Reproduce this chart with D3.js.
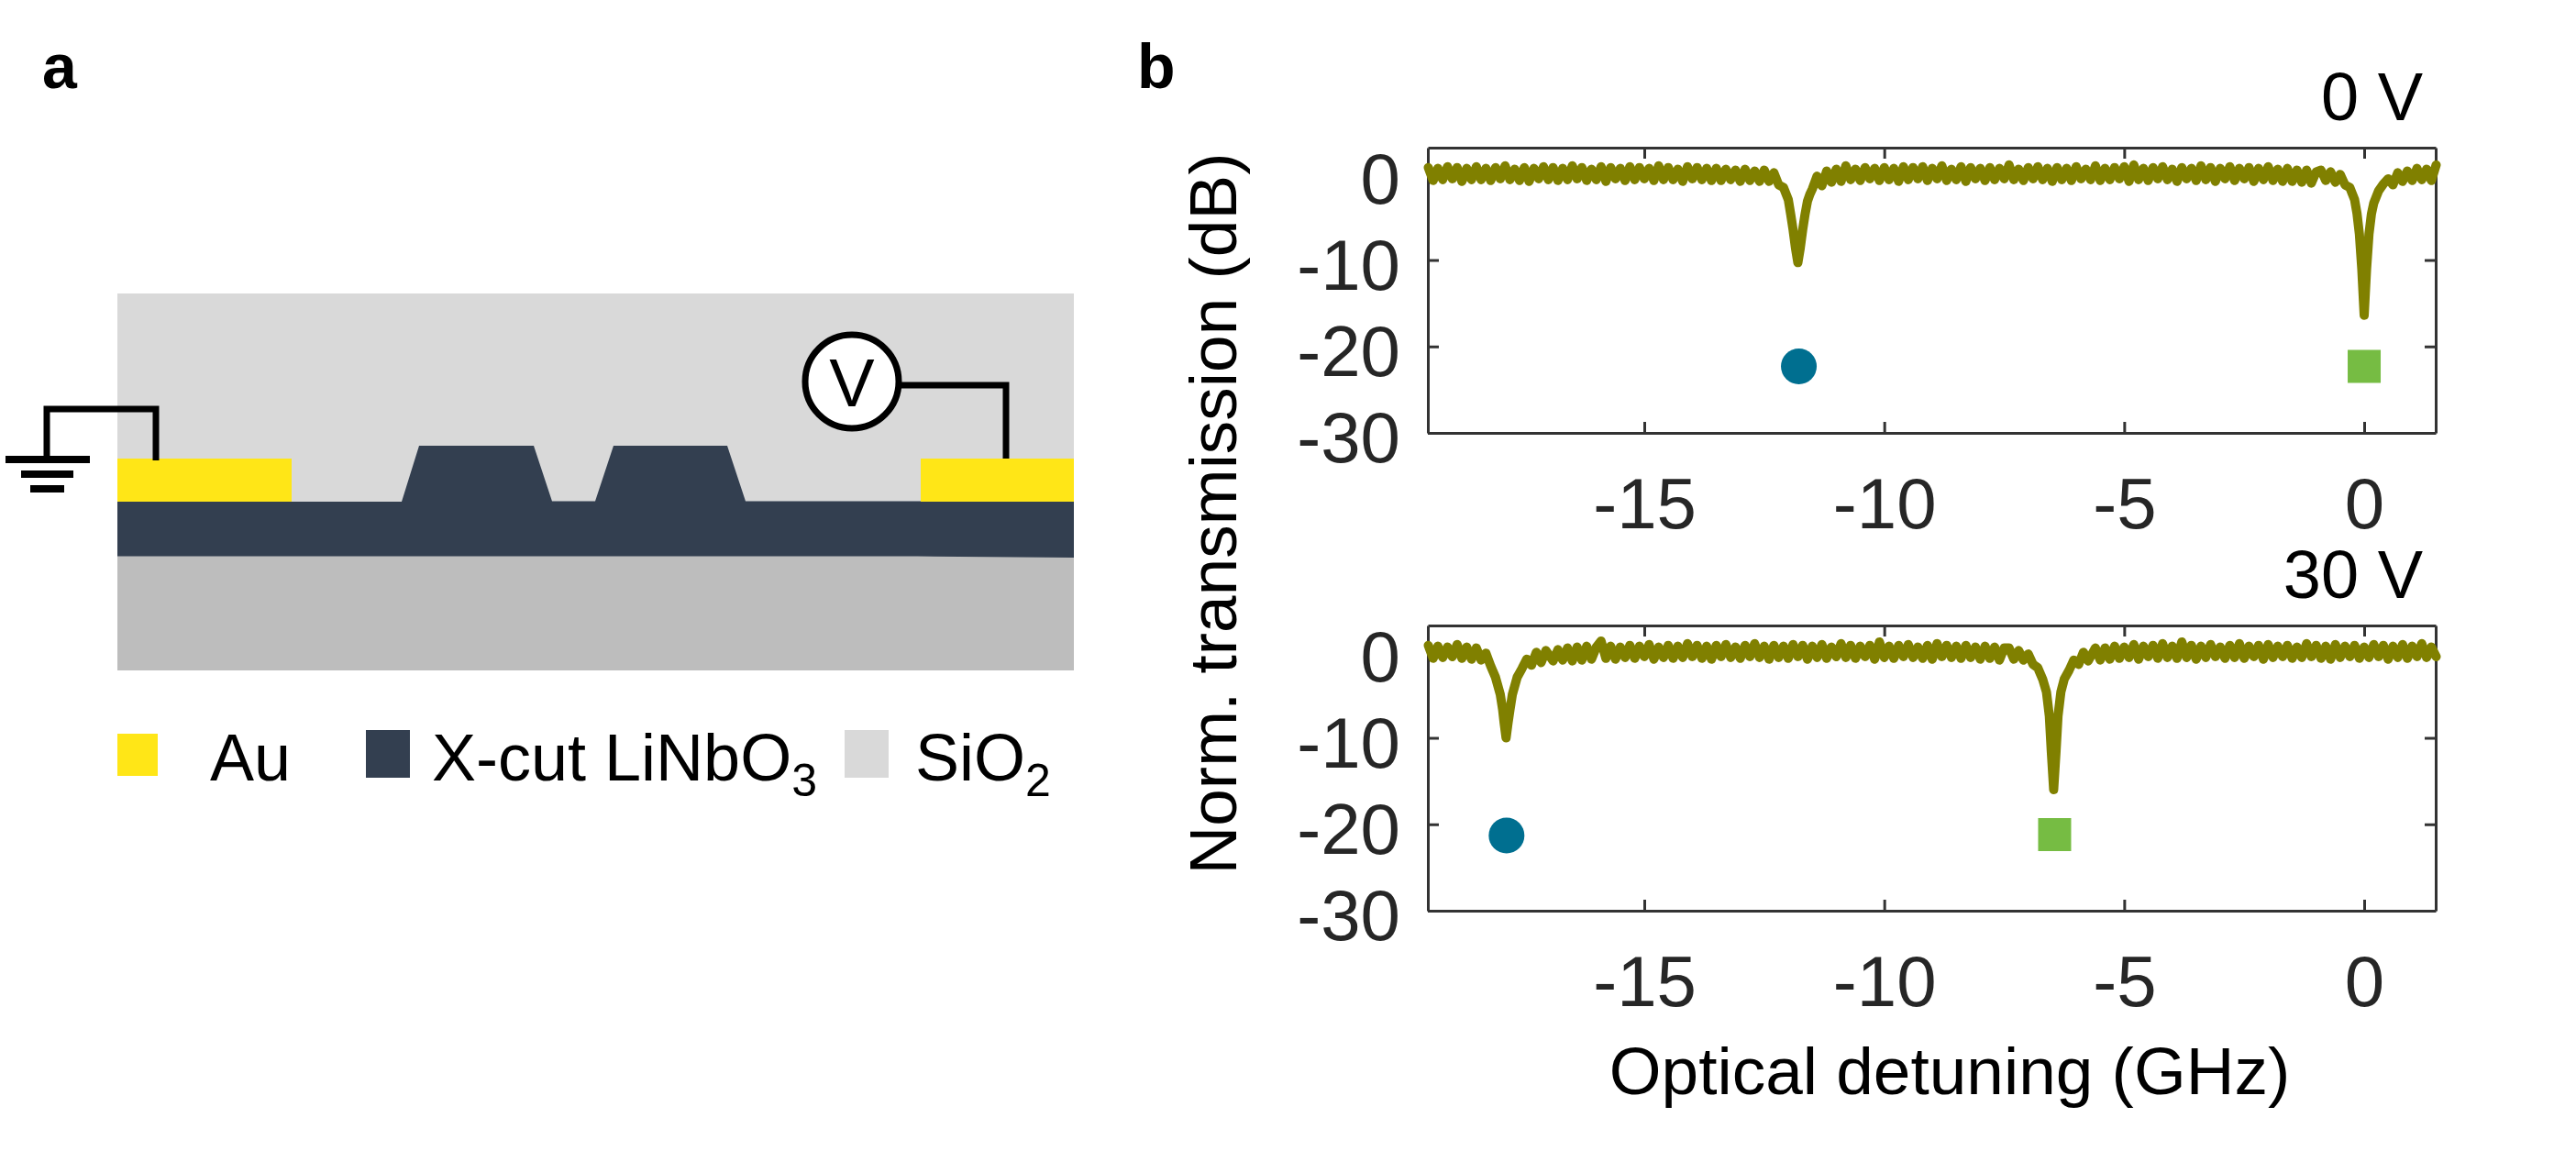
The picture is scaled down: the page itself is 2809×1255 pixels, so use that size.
<!DOCTYPE html>
<meta charset="utf-8">
<style>
body { margin: 0; background: #fff; }
text { font-family: 'Liberation Sans', sans-serif; }
.axis path, .axis line { stroke: #333; stroke-width: 3px; }
.axis text { font-size: 78px; fill: #262626; }
.trace { fill: none; stroke: #808000; stroke-width: 10px; stroke-linejoin: round; stroke-linecap: round; }
.wire { fill: none; stroke: #000; stroke-width: 7px; }
</style>
<svg width="2809" height="1255"></svg>
<script src="https://d3js.org/d3.v7.min.js"></script>
<script>

// tick labels
var xTicks = [-15, -10, -5, 0];
var yTicks = [0, -10, -20, -30];
var voltages = ["0 V", "30 V"];

// 0 V trace
var detuning0V = [
  -19.5,-19.4,-19.3,-19.2,-19.1,-19.0,-18.9,-18.8,-18.7,-18.6,
  -18.5,-18.4,-18.3,-18.2,-18.1,-18.0,-17.9,-17.8,-17.7,-17.6,
  -17.5,-17.4,-17.3,-17.2,-17.1,-17.0,-16.9,-16.8,-16.7,-16.6,
  -16.5,-16.4,-16.3,-16.2,-16.1,-16.0,-15.9,-15.8,-15.7,-15.6,
  -15.5,-15.4,-15.3,-15.2,-15.1,-15.0,-14.9,-14.8,-14.7,-14.6,
  -14.5,-14.4,-14.3,-14.2,-14.1,-14.0,-13.9,-13.8,-13.7,-13.6,
  -13.5,-13.4,-13.3,-13.2,-13.1,-13.0,-12.9,-12.8,-12.7,-12.6,
  -12.5,-12.4,-12.3,-12.2,-12.1,-12.0,-11.95,-11.9,-11.85,-11.8,-11.75,-11.7,-11.65,-11.6,-11.55,-11.5,-11.4,-11.3,-11.2,-11.1,-11.0,
  -10.9,-10.8,-10.7,-10.6,-10.5,-10.4,-10.3,-10.2,-10.1,-10.0,
  -9.9,-9.8,-9.7,-9.6,-9.5,-9.4,-9.3,-9.2,-9.1,-9.0,
  -8.9,-8.8,-8.7,-8.6,-8.5,-8.4,-8.3,-8.2,-8.1,-8.0,
  -7.9,-7.8,-7.7,-7.6,-7.5,-7.4,-7.3,-7.2,-7.1,-7.0,
  -6.9,-6.8,-6.7,-6.6,-6.5,-6.4,-6.3,-6.2,-6.1,-6.0,
  -5.9,-5.8,-5.7,-5.6,-5.5,-5.4,-5.3,-5.2,-5.1,-5.0,
  -4.9,-4.8,-4.7,-4.6,-4.5,-4.4,-4.3,-4.2,-4.1,-4.0,
  -3.9,-3.8,-3.7,-3.6,-3.5,-3.4,-3.3,-3.2,-3.1,-3.0,
  -2.9,-2.8,-2.7,-2.6,-2.5,-2.4,-2.3,-2.2,-2.1,-2.0,
  -1.9,-1.8,-1.7,-1.6,-1.5,-1.4,-1.3,-1.2,-1.1,-1.0,
  -0.9,-0.8,-0.7,-0.6,-0.5,-0.4,-0.3,-0.2,-0.15,-0.1,-0.05,0,0.05,0.1,0.15,0.2,0.3,0.4,0.5,0.6,0.7,0.8,0.9,1.0,1.1,1.2,1.3,1.4,1.5
];
var transmission0V = [
  .7,-.8,.6,-.7,.8,-.6,.7,-.9,.6,-.7,
  .8,-.7,.6,-.8,.7,-.6,.9,-.7,.5,-.8,
  .7,-.9,.6,-.6,.8,-.7,.7,-.8,.6,-.7,
  .9,-.6,.7,-.8,.5,-.7,.8,-.9,.7,-.6,
  .6,-.8,.8,-.7,.7,-.6,.6,-.8,.9,-.7,
  .7,-.7,.5,-.9,.8,-.6,.7,-.7,.6,-.8,
  .6,-.8,.5,-.7,.4,-.9,.5,-.8,.3,-.9,
  .4,-.9,.1,-1.3,-1.6,-3.0,-4.7,-6.5,-8.6,-10.3,-8.6,-6.5,-4.7,-3.2,-2.4,-1.8,-.3,-1.4,.3,-1.0,.5,
  -.9,.9,-.7,.5,-.8,.7,-.6,.6,-.8,.7,
  -.7,.6,-.9,.8,-.7,.7,-.6,.8,-.8,.6,
  -.6,.9,-.8,.5,-.7,.8,-.9,.7,-.6,.6,
  -.8,.7,-.7,.6,-.6,1.0,-.7,.5,-.8,.7,
  -.6,.8,-.7,.6,-.9,.7,-.7,.6,-.8,.8,
  -.6,.5,-.7,.9,-.8,.6,-.7,.7,-.6,.8,
  -.9,1.0,-.7,.6,-.8,.7,-.6,.8,-.7,.5,
  -.9,.7,-.6,.6,-.8,.9,-.7,.7,-.9,.6,
  -.6,.8,-.8,.6,-.6,.7,-.9,.6,-.7,.8,
  -.8,.5,-.9,.6,-.9,.4,-1.0,.4,-1.1,.2,
  .4,-.8,.2,-1.0,-.1,-1.3,-1.6,-3.0,-4.6,-7.0,-11.0,-16.4,-11.0,-7.0,-4.7,-3.4,-2.0,-1.2,-.6,-1.3,.1,-.9,.3,-.8,.6,-.7,.5,-.8,1.0
];

// 30 V trace
var detuning30V = [
  -19.5,-19.4,-19.3,-19.2,-19.1,-19.0,-18.9,-18.8,-18.7,-18.6,
  -18.5,-18.4,-18.3,-18.2,-18.1,-18.0,-17.95,-17.92,-17.88,-17.84,-17.8,-17.75,-17.65,-17.55,-17.45,-17.35,-17.25,-17.15,-17.05,
  -16.9,-16.8,-16.7,-16.6,-16.5,
  -16.4,-16.3,-16.2,-16.1,-16.0,-15.9,-15.8,-15.7,-15.6,-15.5,
  -15.4,-15.3,-15.2,-15.1,-15.0,-14.9,-14.8,-14.7,-14.6,-14.5,
  -14.4,-14.3,-14.2,-14.1,-14.0,-13.9,-13.8,-13.7,-13.6,-13.5,
  -13.4,-13.3,-13.2,-13.1,-13.0,-12.9,-12.8,-12.7,-12.6,-12.5,
  -12.4,-12.3,-12.2,-12.1,-12.0,-11.9,-11.8,-11.7,-11.6,-11.5,
  -11.4,-11.3,-11.2,-11.1,-11.0,-10.9,-10.8,-10.7,-10.6,-10.5,
  -10.4,-10.3,-10.2,-10.1,-10.0,-9.9,-9.8,-9.7,-9.6,-9.5,
  -9.4,-9.3,-9.2,-9.1,-9.0,-8.9,-8.8,-8.7,-8.6,-8.5,
  -8.4,-8.3,-8.2,-8.1,-8.0,-7.9,-7.8,-7.7,-7.6,-7.5,
  -7.4,-7.3,-7.2,-7.1,-7.0,-6.9,-6.8,-6.7,-6.62,-6.56,-6.52,-6.47,-6.42,-6.38,-6.32,-6.25,-6.15,-6.05,-5.95,-5.85,-5.75,
  -5.6,-5.5,-5.4,-5.3,-5.2,-5.1,-5.0,-4.9,-4.8,-4.7,
  -4.6,-4.5,-4.4,-4.3,-4.2,-4.1,-4.0,-3.9,-3.8,-3.7,
  -3.6,-3.5,-3.4,-3.3,-3.2,-3.1,-3.0,-2.9,-2.8,-2.7,
  -2.6,-2.5,-2.4,-2.3,-2.2,-2.1,-2.0,-1.9,-1.8,-1.7,
  -1.6,-1.5,-1.4,-1.3,-1.2,-1.1,-1.0,-0.9,-0.8,-0.7,
  -0.6,-0.5,-0.4,-0.3,-0.2,-0.1,0,0.1,0.2,0.3,
  0.4,0.5,0.6,0.7,0.8,0.9,1.0,1.1,1.2,1.3,
  1.4,1.5
];
var transmission30V = [
  .7,-.8,.6,-.7,.5,-.6,.8,-.8,.5,-.9,
  .4,-1.0,-.2,-1.7,-3.0,-5.0,-6.8,-8.3,-10.0,-8.3,-6.8,-5.0,-3.0,-2.0,-.9,-1.6,-.1,-1.3,.1,
  -1.1,.2,-1.0,.4,-1.1,
  .5,-1.0,.6,-.9,.5,1.2,-.8,.6,-.9,.5,
  -.7,.7,-.8,.6,-.6,.8,-.9,.5,-.7,.7,
  -.8,.6,-.7,.9,-.6,.7,-.8,.6,-.9,.7,
  -.6,.8,-.7,.5,-.8,.7,-.6,.9,-.7,.6,
  -.9,.7,-.7,.6,-.8,.8,-.6,.7,-.9,.6,
  -.7,.8,-.8,.5,-.6,.9,-.7,.7,-.8,.6,
  -.6,.7,-.9,1.1,-.7,.6,-.8,.7,-.6,.8,
  -.7,.5,-.8,.7,-.9,.9,-.6,.7,-.7,.6,
  -.8,.7,-.7,.5,-.9,.6,-.8,.5,-1.0,.4,
  .4,-.9,.1,-1.0,-.3,-1.5,-1.9,-3.2,-4.7,-7.5,-11.5,-16.0,-11.5,-7.5,-4.7,-3.2,-2.2,-1.0,-1.5,-.1,-1.1,
  .4,-1.0,.4,-.9,.6,-.8,.5,-.7,.8,-.9,
  .6,-.6,.7,-.8,.9,-.7,.6,-.8,1.1,-.7,
  .7,-.9,.6,-.7,.8,-.6,.5,-.8,.7,-.7,
  .9,-.8,.6,-.6,.7,-.9,.8,-.7,.6,-.6,
  .7,-.8,.5,-.7,.9,-.6,.7,-.8,.6,-.9,
  .8,-.7,.6,-.6,.7,-.8,.5,-.7,.8,-.6,
  .7,-.9,.6,-.7,.8,-.8,.6,-.6,.9,-.7,
  .5,-.6
];

// where each resonance sits, used for the markers
var circleDetuning = [-11.78, -17.87];
var circleLevel = [-22.3, -21.3];
var squareDetuning = [0, -6.45];
var squareLevel = [-22.3, -21.2];

var traces = [d3.zip(detuning0V, transmission0V), d3.zip(detuning30V, transmission30V)];

var svg = d3.select("svg");
var panelLeft = 1557, panelRight = 2656;
var panelTops = [161, 682], panelHeight = 311;

var x = d3.scaleLinear().domain([-19.51, 1.49]).range([panelLeft, panelRight]);

// panel labels
svg.append("text").attr("x", 46).attr("y", 96).attr("font-size", 68).attr("font-weight", "bold").text("a");
svg.append("text").attr("x", 1240).attr("y", 96).attr("font-size", 68).attr("font-weight", "bold").text("b");

// ---- panel a, the device cross section
var polygon = d3.line();
var section = svg.append("g");

section.append("rect").attr("x", 128).attr("y", 320).attr("width", 1043).attr("height", 240).attr("fill", "#d9d9d9");
section.append("path").attr("fill", "#bdbdbd")
  .attr("d", polygon([[128, 600], [1171, 600], [1171, 731], [128, 731]]) + "Z");
section.append("path").attr("fill", "#333f50")
  .attr("d", polygon([[128, 547], [438, 547], [457, 486], [582, 486], [602, 546.5], [649, 546.5], [669, 486],
    [793, 486], [813, 546.5], [1171, 546.5], [1171, 608], [1000, 606.5], [128, 606.5]]) + "Z");

section.append("rect").attr("x", 128).attr("y", 500).attr("width", 190).attr("height", 47).attr("fill", "#ffe617");
section.append("rect").attr("x", 1004).attr("y", 500).attr("width", 167).attr("height", 47).attr("fill", "#ffe617");

// ground symbol and wires
section.append("path").attr("class", "wire").attr("d", polygon([[51, 500], [51, 446], [170, 446], [170, 502]]));
section.append("rect").attr("x", 6).attr("y", 497).attr("width", 92).attr("height", 8);
section.append("rect").attr("x", 23).attr("y", 513).attr("width", 57).attr("height", 8);
section.append("rect").attr("x", 33).attr("y", 529).attr("width", 37).attr("height", 8);

section.append("path").attr("class", "wire").attr("d", polygon([[980, 420], [1097, 420], [1097, 500]]));
section.append("circle").attr("cx", 929).attr("cy", 416).attr("r", 51)
  .attr("fill", "#fff").attr("stroke", "#000").attr("stroke-width", 7);
section.append("text").attr("x", 929).attr("y", 443).attr("text-anchor", "middle").attr("font-size", 74).text("V");

// legend
section.append("rect").attr("x", 128).attr("y", 800).attr("width", 44).attr("height", 46).attr("fill", "#ffe617");
section.append("rect").attr("x", 399).attr("y", 796).attr("width", 48).attr("height", 52).attr("fill", "#333f50");
section.append("rect").attr("x", 921).attr("y", 796).attr("width", 48).attr("height", 52).attr("fill", "#d9d9d9");

section.append("text").attr("x", 229).attr("y", 851).attr("font-size", 72).text("Au");
var lnLabel = section.append("text").attr("x", 471).attr("y", 851).attr("font-size", 72);
lnLabel.append("tspan").text("X-cut LiNbO");
lnLabel.append("tspan").attr("dy", 17).attr("font-size", 50).text("3");
var sioLabel = section.append("text").attr("x", 998).attr("y", 851).attr("font-size", 72);
sioLabel.append("tspan").text("SiO");
sioLabel.append("tspan").attr("dy", 17).attr("font-size", 50).text("2");

// ---- panel b, the two spectra
panelTops.forEach(function(top, i) {
  var y = d3.scaleLinear().domain([-30, 3]).range([top + panelHeight, top]);
  var line = d3.line().x(function(d) { return x(d[0]); }).y(function(d) { return y(d[1]); });

  var bottomAxis = svg.append("g").attr("class", "axis")
    .attr("transform", "translate(0," + (top + panelHeight) + ")")
    .call(d3.axisBottom(x).tickValues(xTicks).tickSizeInner(-12).tickSizeOuter(0).tickPadding(49).tickFormat(String));
  bottomAxis.selectAll("text").attr("dy", "0.71em");

  svg.append("g").attr("class", "axis")
    .attr("transform", "translate(0," + top + ")")
    .call(d3.axisTop(x).tickValues(xTicks).tickSizeInner(-12).tickSizeOuter(0).tickFormat(""));

  var leftAxis = svg.append("g").attr("class", "axis")
    .attr("transform", "translate(" + panelLeft + ",0)")
    .call(d3.axisLeft(y).tickValues(yTicks).tickSizeInner(-12).tickSizeOuter(0).tickPadding(30).tickFormat(String));
  leftAxis.selectAll("text").attr("dy", "0.41em");

  svg.append("g").attr("class", "axis")
    .attr("transform", "translate(" + panelRight + ",0)")
    .call(d3.axisRight(y).tickValues(yTicks).tickSizeInner(-12).tickSizeOuter(0).tickFormat(""));

  svg.append("path").datum(traces[i]).attr("class", "trace").attr("d", line);

  svg.append("path")
    .attr("transform", "translate(" + x(circleDetuning[i]) + "," + y(circleLevel[i]) + ")")
    .attr("d", d3.symbol().type(d3.symbolCircle).size(Math.PI * 19.5 * 19.5)())
    .attr("fill", "#006f90");
  svg.append("path")
    .attr("transform", "translate(" + x(squareDetuning[i]) + "," + y(squareLevel[i]) + ")")
    .attr("d", d3.symbol().type(d3.symbolSquare).size(36 * 36)())
    .attr("fill", "#76bc43");

  svg.append("text")
    .attr("x", 2642).attr("y", top - 30)
    .attr("text-anchor", "end").attr("font-size", 74)
    .text(voltages[i]);
});

// axis labels
svg.append("text")
  .attr("x", 2126).attr("y", 1193)
  .attr("text-anchor", "middle").attr("font-size", 73)
  .text("Optical detuning (GHz)");

svg.append("text")
  .attr("transform", "translate(1348,560) rotate(-90)")
  .attr("text-anchor", "middle").attr("font-size", 73)
  .text("Norm. transmission (dB)");

</script>
